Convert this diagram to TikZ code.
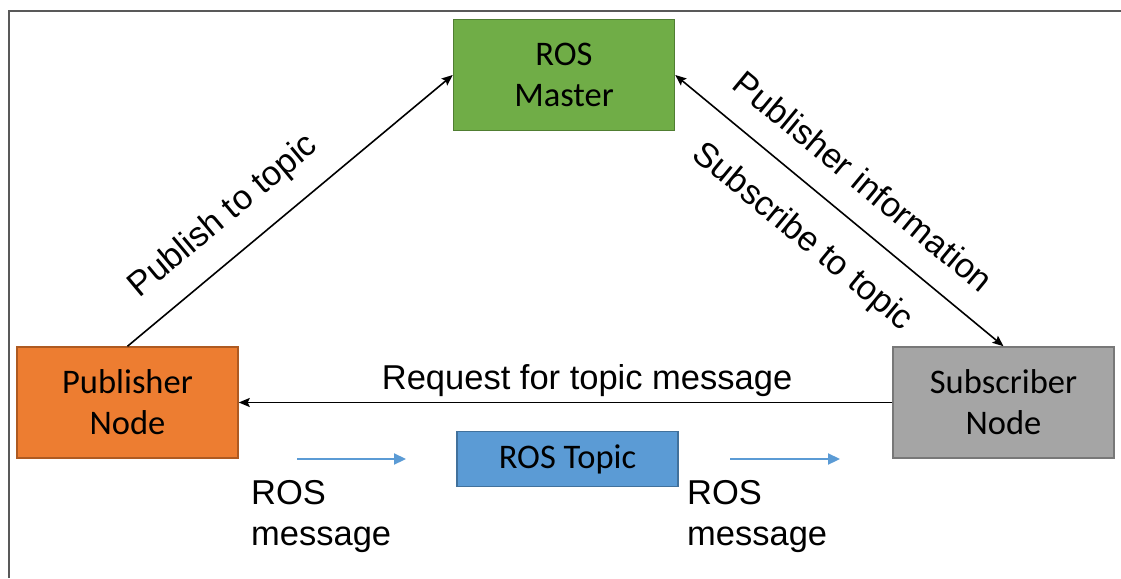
\documentclass[tikz,border=0pt]{standalone}
\usepackage{fontspec}
\setmainfont{Liberation Sans}
\newfontfamily\boxfont{Carlito}
\usetikzlibrary{arrows.meta,calc}

\definecolor{masterfill}{HTML}{70AD47}
\definecolor{masterline}{HTML}{507E32}
\definecolor{pubfill}{HTML}{ED7D31}
\definecolor{publine}{HTML}{AE5A21}
\definecolor{subfill}{HTML}{A5A5A5}
\definecolor{subline}{HTML}{787878}
\definecolor{topicfill}{HTML}{5B9BD5}
\definecolor{topicline}{HTML}{41719C}
\definecolor{framegray}{HTML}{595959}

\tikzset{
  rostip/.tip={Stealth[length=11pt,width=9pt,inset=2pt]},
  msgtip/.tip={Triangle[length=12pt,width=11pt]},
}

\begin{document}
\begin{tikzpicture}[x=1pt, y=-1pt,
  rosbox/.style={draw, line width=1.5pt, minimum width=221pt, minimum height=111pt,
    inner sep=0pt, align=center, font=\boxfont\fontsize{34.5}{41}\selectfont},
  textlabel/.style={font=\fontsize{34.5}{41}\selectfont},
  arr/.style={line width=1.6pt, -rostip},
  twoarr/.style={line width=1.6pt, rostip-rostip},
  msgarr/.style={draw=topicfill, line width=2.2pt, -msgtip},
]
\useasboundingbox (0,0) rectangle (1121,578);

% outer frame (top and left edges)
\draw[framegray, line width=2pt] (9,578) -- (9,11) -- (1121,11);

% the four blocks
\node[rosbox, fill=masterfill, draw=masterline] (master) at (564,75) {ROS\\Master};
\node[rosbox, fill=pubfill, draw=publine] (pub) at (127.5,402.5) {Publisher\\Node};
\node[rosbox, fill=subfill, draw=subline] (sub) at (1003.5,402.5) {Subscriber\\Node};
\node[rosbox, fill=topicfill, draw=topicline, minimum height=55pt] (topic) at (567.5,459) {ROS Topic};

% publisher registers with the master
\draw[arr] (pub.north) -- (master.west)
  node[textlabel, pos=0.37, sloped, anchor=south, text depth=0pt, inner ysep=28pt] (publbl) {Publish to topic};

% subscriber <-> master
\draw[twoarr] (master.east) -- (sub.north)
  node[textlabel, pos=0.5, sloped, anchor=south, text depth=0pt, inner ysep=25pt] (infolbl) {Publisher information}
  node[textlabel, pos=0.473, sloped, anchor=north, text height=24.5pt, inner ysep=28pt] (sublbl) {Subscribe to topic};

% subscriber asks the publisher for messages
\draw[arr] (sub.west) -- (pub.east)
  node[textlabel, pos=0.467, anchor=base, yshift=13pt] (reqlbl) {Request for topic message};

% message flow through the topic
\coordinate (msgAs) at (297,459);
\coordinate (msgAe) at (406,459);
\coordinate (msgBs) at (730,459);
\coordinate (msgBe) at (840,459);
\draw[msgarr] (msgAs) -- (msgAe);
\draw[msgarr] (msgBs) -- (msgBe);
\node[textlabel, align=left, anchor=north west, inner sep=0pt] (msgAlbl) at (251,480) {ROS\\message};
\node[textlabel, align=left, anchor=north west, inner sep=0pt] (msgBlbl) at (687,480) {ROS\\message};
\end{tikzpicture}
\end{document}
